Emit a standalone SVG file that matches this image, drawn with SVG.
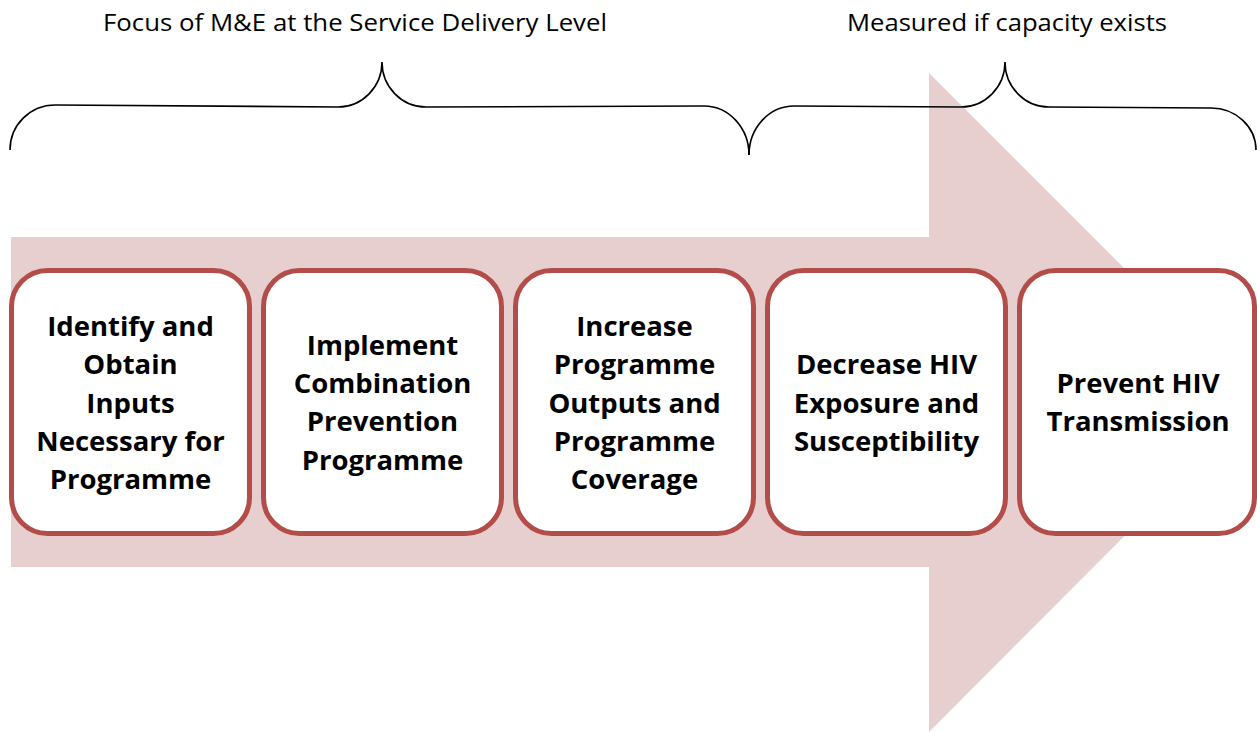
<svg xmlns="http://www.w3.org/2000/svg" width="1257" height="732" viewBox="0 0 1257 732">
<style>
.lbl{font-family:"Open Sans","Noto Sans",sans-serif;font-weight:700;font-size:27.5px;fill:#000;text-anchor:middle}
.top{font-family:"Open Sans","Noto Sans",sans-serif;font-size:23px;fill:#000;text-anchor:middle}
.box{fill:#fff;stroke:#B24D4A;stroke-width:5}
.brace{fill:none;stroke:#000;stroke-width:1.6}
</style>
<rect width="1257" height="732" fill="#fff"/>
<g id="arrow">
<polygon points="11,237 929,237 929,73 1258,402 929,732 929,567 11,567" fill="#E8CFCF"/>
</g>
<g id="connectors">
<path class="brace" d="M10,150 A45,45 0 0 1 55,105 L338,107 A44,45 0 0 0 382,62 A44,45 0 0 0 426,107 L704,106 A45,49 0 0 1 749,155"/>
<path class="brace" d="M749,155 A45,49 0 0 1 794,106 L961,107 A44,45 0 0 0 1005,62 A44,45 0 0 0 1049,107 L1211,108 A45,42 0 0 1 1256,150"/>
</g>
<g id="label-focus"><text class="top" x="355" y="31" textLength="504" lengthAdjust="spacingAndGlyphs">Focus of M&amp;E at the Service Delivery Level</text></g>
<g id="label-measured"><text class="top" x="1007" y="31" textLength="320" lengthAdjust="spacingAndGlyphs">Measured if capacity exists</text></g>
<g id="node1">
<rect class="box" x="11.5" y="270.5" width="238" height="263" rx="36"/>
<text class="lbl" x="130.5" y="336">Identify and</text>
<text class="lbl" x="130.5" y="374">Obtain</text>
<text class="lbl" x="130.5" y="413">Inputs</text>
<text class="lbl" x="130.5" y="451">Necessary for</text>
<text class="lbl" x="130.5" y="489">Programme</text>
</g>
<g id="node2">
<rect class="box" x="263.5" y="270.5" width="238" height="263" rx="36"/>
<text class="lbl" x="382.5" y="355">Implement</text>
<text class="lbl" x="382.5" y="393">Combination</text>
<text class="lbl" x="382.5" y="431">Prevention</text>
<text class="lbl" x="382.5" y="470">Programme</text>
</g>
<g id="node3">
<rect class="box" x="515.5" y="270.5" width="238" height="263" rx="36"/>
<text class="lbl" x="634.5" y="336">Increase</text>
<text class="lbl" x="634.5" y="374">Programme</text>
<text class="lbl" x="634.5" y="413">Outputs and</text>
<text class="lbl" x="634.5" y="451">Programme</text>
<text class="lbl" x="634.5" y="489">Coverage</text>
</g>
<g id="node4">
<rect class="box" x="767.5" y="270.5" width="238" height="263" rx="36"/>
<text class="lbl" x="886.5" y="374">Decrease HIV</text>
<text class="lbl" x="886.5" y="413">Exposure and</text>
<text class="lbl" x="886.5" y="451">Susceptibility</text>
</g>
<g id="node5">
<rect class="box" x="1019.5" y="270.5" width="235" height="263" rx="36"/>
<text class="lbl" x="1138" y="393">Prevent HIV</text>
<text class="lbl" x="1138" y="431">Transmission</text>
</g>
</svg>
